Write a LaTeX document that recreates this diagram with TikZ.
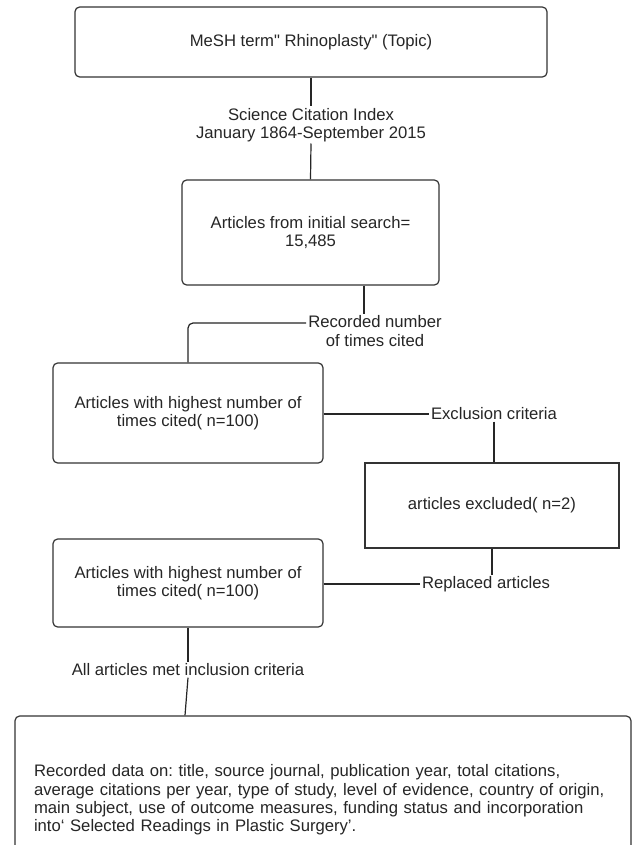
\documentclass[tikz,border=0pt]{standalone}
\usepackage{fontspec}
\setmainfont{Liberation Sans}
\begin{document}
\begin{tikzpicture}[x=0.75pt,y=-0.75pt,
  every node/.style={font=\fontsize{12.5}{13.7}\selectfont\frenchspacing, text=black!85},
  boxrnd/.style={draw=black!80, line width=0.9pt, rounded corners=3.5pt, align=center, inner sep=0pt},
  boxsq/.style={draw=black!80, line width=0.9pt, align=center, inner sep=0pt},
  lbl/.style={align=center, inner xsep=1.5pt, inner ysep=1pt, fill=white},
  conn/.style={draw=black!85, line width=0.9pt}]
\useasboundingbox (0,0) rectangle (632,845);
\fill[white] (0,0) rectangle (632,845);
\clip (0,0) rectangle (632,845);

\node[boxrnd, minimum width=472*0.75pt, minimum height=70*0.75pt] (top) at (311,42) {MeSH term\textquotedbl{} Rhinoplasty\textquotedbl{} (Topic)};
\node[boxrnd, minimum width=257*0.75pt, minimum height=105*0.75pt] (b2) at (310.5,232.5) {Articles from initial search=\\15,485};
\node[boxrnd, minimum width=270*0.75pt, minimum height=100*0.75pt] (b3) at (188,413) {Articles with highest number of\\times cited( n=100)};
\node[boxsq, minimum width=254*0.75pt, minimum height=85*0.75pt] (b4) at (492,505.5) {articles excluded( n=2)};
\node[boxrnd, minimum width=270*0.75pt, minimum height=88*0.75pt] (b5) at (188,583) {Articles with highest number of\\times cited( n=100)};
\node[boxrnd, text width=578*0.75pt, inner xsep=19*0.75pt, minimum height=168*0.75pt, align=left] (b6) at (323,800) {\hyphenpenalty=10000 Recorded data on: title, source journal, publication year, total citations,\\average citations per year, type of study, level of evidence, country of origin,\\main subject, use of outcome measures, funding status and incorporation\\into‘ Selected Readings in Plastic Surgery’.};

\node[lbl] (l1) at (311,125) {Science Citation Index\\January 1864-September 2015};
\node[lbl] (l2) at (375,331) {Recorded number\\of times cited};
\node[lbl] (l3) at (494,414) {Exclusion criteria};
\node[lbl] (l4) at (486,584) {Replaced articles};
\node[lbl] (l5) at (188,670) {All articles met inclusion criteria};

\draw[conn] (top.south) -- (l1.north);
\draw[conn] (l1.south) -- (b2.north);
\coordinate (k2) at (364,0);
\draw[conn] (b2.south -| k2) -- (l2.north -| k2);
\coordinate (k3) at (0,323);
\draw[conn, rounded corners=3.75pt] (l2.west |- k3) -- (b3.north |- k3) -- (b3.north);
\draw[conn] (b3.east |- l3.west) -- (l3.west);
\draw[conn] (l3.south) -- (l3.south |- b4.north);
\draw[conn] (b4.south) -- (b4.south |- l4.north);
\draw[conn] (b5.east |- l4.west) -- (l4.west);
\draw[conn] (b5.south) -- (l5.north);
\coordinate (k6) at (185,0);
\draw[conn] (l5.south) -- (b6.north -| k6);
\end{tikzpicture}
\end{document}
